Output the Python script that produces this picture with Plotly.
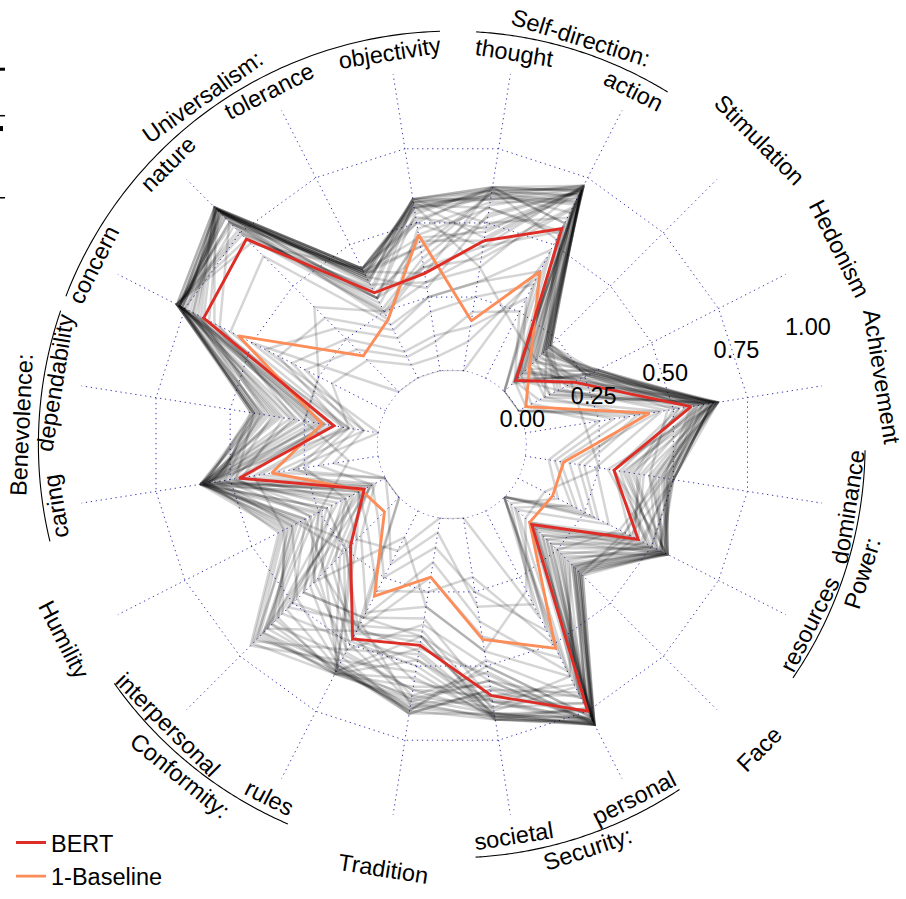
import numpy as np
import plotly.graph_objects as go

# ---------------- data ----------------
categories = ["thought", "action", "Stimulation", "Hedonism", "Achievement",
              "dominance", "resources", "Face", "personal", "societal",
              "Tradition", "rules", "interpersonal", "Humility", "caring",
              "dependability", "concern", "nature", "tolerance", "objectivity"]

bert = [0.44, 0.56, 0.055, 0.21, 0.56, 0.30, 0.45, 0.13, 0.75, 0.60,
        0.43, 0.48, 0.23, 0.08, 0.47, 0.15, 0.68, 0.72, 0.32, 0.33]
baseline = [0.17, 0.40, 0.12, 0.03, 0.42, 0.13, 0.13, 0.12, 0.515, 0.41,
            0.20, 0.32, 0.07, 0.09, 0.36, 0.19, 0.55, 0.17, 0.22, 0.46]

# other runs (grey), one list per run, same category order
run_01 = [0.60, 0.66, 0.08, 0.27, 0.64, 0.36, 0.55, 0.20, 0.79, 0.55, 0.62, 0.50, 0.35, 0.30, 0.59, 0.22, 0.77, 0.80, 0.40, 0.42]
run_02 = [0.45, 0.72, 0.20, 0.14, 0.58, 0.49, 0.47, 0.33, 0.74, 0.67, 0.40, 0.60, 0.58, 0.10, 0.52, 0.40, 0.72, 0.86, 0.30, 0.57]
run_03 = [0.62, 0.58, 0.15, 0.24, 0.62, 0.42, 0.52, 0.14, 0.80, 0.62, 0.55, 0.44, 0.25, 0.22, 0.60, 0.30, 0.76, 0.84, 0.38, 0.50]
run_04 = [0.52, 0.70, 0.22, 0.29, 0.55, 0.30, 0.56, 0.28, 0.68, 0.58, 0.66, 0.58, 0.48, 0.35, 0.55, 0.15, 0.78, 0.74, 0.25, 0.36]
run_05 = [0.58, 0.69, 0.05, 0.20, 0.65, 0.47, 0.40, 0.36, 0.78, 0.66, 0.48, 0.61, 0.65, 0.08, 0.58, 0.38, 0.70, 0.87, 0.41, 0.55]
run_06 = [0.40, 0.64, 0.18, 0.30, 0.60, 0.44, 0.54, 0.22, 0.77, 0.50, 0.36, 0.52, 0.40, 0.28, 0.48, 0.42, 0.77, 0.82, 0.35, 0.30]
run_07 = [0.61, 0.71, 0.12, 0.12, 0.63, 0.50, 0.50, 0.30, 0.72, 0.64, 0.60, 0.47, 0.30, 0.15, 0.59, 0.25, 0.66, 0.85, 0.39, 0.58]
run_08 = [0.55, 0.55, 0.21, 0.26, 0.52, 0.38, 0.44, 0.37, 0.80, 0.68, 0.52, 0.56, 0.70, 0.40, 0.57, 0.35, 0.75, 0.78, 0.28, 0.46]
run_09 = [0.48, 0.68, 0.10, 0.22, 0.64, 0.33, 0.53, 0.18, 0.65, 0.60, 0.63, 0.42, 0.52, 0.05, 0.45, 0.18, 0.77, 0.86, 0.37, 0.52]
run_10 = [0.60, 0.62, 0.16, 0.28, 0.61, 0.46, 0.38, 0.25, 0.79, 0.53, 0.44, 0.60, 0.22, 0.32, 0.60, 0.28, 0.62, 0.80, 0.32, 0.40]
run_11 = [0.35, 0.72, 0.19, 0.18, 0.57, 0.48, 0.55, 0.32, 0.75, 0.66, 0.58, 0.54, 0.60, 0.18, 0.53, 0.43, 0.78, 0.70, 0.41, 0.56]
run_12 = [0.57, 0.66, 0.06, 0.25, 0.65, 0.28, 0.49, 0.12, 0.78, 0.62, 0.34, 0.40, 0.45, 0.25, 0.58, 0.20, 0.74, 0.87, 0.22, 0.48]
run_13 = [0.62, 0.70, 0.22, 0.16, 0.48, 0.42, 0.56, 0.26, 0.70, 0.48, 0.65, 0.59, 0.35, 0.12, 0.60, 0.33, 0.76, 0.83, 0.40, 0.33]
run_14 = [0.50, 0.60, 0.14, 0.30, 0.63, 0.50, 0.42, 0.35, 0.80, 0.67, 0.50, 0.49, 0.55, 0.38, 0.42, 0.12, 0.68, 0.86, 0.36, 0.58]
run_15 = [0.44, 0.71, 0.09, 0.23, 0.59, 0.35, 0.51, 0.16, 0.76, 0.57, 0.57, 0.61, 0.28, 0.06, 0.56, 0.39, 0.78, 0.76, 0.30, 0.44]
run_16 = [0.61, 0.52, 0.20, 0.10, 0.65, 0.45, 0.54, 0.31, 0.62, 0.64, 0.42, 0.45, 0.62, 0.26, 0.59, 0.24, 0.71, 0.85, 0.39, 0.54]
run_17 = [0.56, 0.69, 0.04, 0.27, 0.54, 0.32, 0.48, 0.22, 0.79, 0.61, 0.64, 0.57, 0.42, 0.20, 0.50, 0.36, 0.77, 0.80, 0.26, 0.38]
run_18 = [0.42, 0.72, 0.17, 0.21, 0.62, 0.48, 0.56, 0.34, 0.74, 0.68, 0.46, 0.52, 0.68, 0.34, 0.58, 0.16, 0.64, 0.87, 0.41, 0.50]
run_19 = [0.59, 0.65, 0.11, 0.29, 0.64, 0.40, 0.45, 0.15, 0.80, 0.52, 0.60, 0.60, 0.20, 0.10, 0.55, 0.41, 0.78, 0.72, 0.34, 0.57]
run_20 = [0.53, 0.70, 0.21, 0.15, 0.60, 0.49, 0.53, 0.29, 0.66, 0.65, 0.38, 0.43, 0.50, 0.30, 0.60, 0.27, 0.76, 0.84, 0.38, 0.28]
run_21 = [0.62, 0.58, 0.07, 0.24, 0.50, 0.37, 0.55, 0.36, 0.78, 0.58, 0.66, 0.55, 0.38, 0.16, 0.46, 0.32, 0.73, 0.86, 0.30, 0.53]
run_22 = [0.47, 0.71, 0.19, 0.28, 0.65, 0.44, 0.40, 0.20, 0.77, 0.67, 0.54, 0.61, 0.57, 0.37, 0.59, 0.10, 0.78, 0.79, 0.40, 0.45]
run_23 = [0.58, 0.67, 0.13, 0.19, 0.61, 0.30, 0.50, 0.27, 0.72, 0.62, 0.48, 0.48, 0.32, 0.08, 0.57, 0.37, 0.69, 0.87, 0.36, 0.58]
run_24 = [0.38, 0.63, 0.22, 0.26, 0.56, 0.47, 0.56, 0.33, 0.80, 0.55, 0.61, 0.58, 0.64, 0.28, 0.52, 0.21, 0.77, 0.82, 0.24, 0.35]
run_25 = [0.60, 0.72, 0.15, 0.12, 0.63, 0.50, 0.46, 0.18, 0.79, 0.68, 0.40, 0.40, 0.45, 0.22, 0.60, 0.34, 0.75, 0.86, 0.41, 0.51]
run_26 = [0.55, 0.54, 0.09, 0.30, 0.58, 0.34, 0.52, 0.24, 0.69, 0.60, 0.58, 0.53, 0.26, 0.33, 0.54, 0.42, 0.78, 0.75, 0.33, 0.56]
run_27 = [0.49, 0.70, 0.18, 0.22, 0.65, 0.43, 0.54, 0.32, 0.77, 0.50, 0.65, 0.59, 0.53, 0.13, 0.58, 0.19, 0.72, 0.85, 0.39, 0.42]
run_28 = [0.61, 0.68, 0.05, 0.27, 0.60, 0.39, 0.43, 0.14, 0.80, 0.66, 0.45, 0.44, 0.36, 0.24, 0.49, 0.29, 0.77, 0.83, 0.37, 0.55]
run_29 = [0.61, 0.71, 0.21, 0.28, 0.64, 0.49, 0.55, 0.35, 0.79, 0.67, 0.64, 0.60, 0.66, 0.36, 0.59, 0.41, 0.77, 0.86, 0.40, 0.57]
run_30 = [0.59, 0.72, 0.20, 0.29, 0.65, 0.48, 0.56, 0.36, 0.80, 0.68, 0.62, 0.61, 0.69, 0.39, 0.60, 0.42, 0.78, 0.87, 0.41, 0.56]
run_31 = [0.62, 0.70, 0.22, 0.27, 0.63, 0.50, 0.54, 0.34, 0.78, 0.66, 0.66, 0.59, 0.62, 0.33, 0.58, 0.43, 0.76, 0.85, 0.39, 0.58]
run_32 = [0.60, 0.69, 0.19, 0.30, 0.64, 0.47, 0.55, 0.37, 0.80, 0.67, 0.63, 0.60, 0.60, 0.35, 0.60, 0.40, 0.77, 0.86, 0.40, 0.55]
run_33 = [0.58, 0.71, 0.21, 0.26, 0.65, 0.50, 0.53, 0.33, 0.79, 0.68, 0.65, 0.58, 0.67, 0.38, 0.59, 0.42, 0.78, 0.87, 0.41, 0.57]
run_34 = [0.62, 0.72, 0.18, 0.28, 0.62, 0.46, 0.56, 0.35, 0.80, 0.66, 0.61, 0.61, 0.64, 0.31, 0.60, 0.39, 0.77, 0.84, 0.38, 0.58]
run_35 = [0.00, 0.45, 0.00, 0.00, 0.40, 0.20, 0.30, 0.00, 0.55, 0.40, 0.20, 0.45, 0.00, 0.00, 0.35, 0.05, 0.50, 0.00, 0.00, 0.00]
run_36 = [0.25, 0.35, 0.00, 0.00, 0.45, 0.15, 0.25, 0.00, 0.60, 0.35, 0.15, 0.40, 0.00, 0.00, 0.30, 0.00, 0.45, 0.30, 0.15, 0.20]
run_37 = [0.15, 0.30, 0.08, 0.05, 0.30, 0.10, 0.20, 0.05, 0.45, 0.25, 0.10, 0.25, 0.10, 0.05, 0.20, 0.08, 0.35, 0.25, 0.10, 0.12]
run_38 = [0.30, 0.40, 0.12, 0.10, 0.38, 0.18, 0.28, 0.00, 0.50, 0.20, 0.25, 0.30, 0.15, 0.10, 0.28, 0.12, 0.40, 0.35, 0.18, 0.25]
run_39 = [0.20, 0.25, 0.05, 0.03, 0.25, 0.08, 0.15, 0.03, 0.35, 0.30, 0.05, 0.20, 0.05, 0.00, 0.15, 0.05, 0.30, 0.20, 0.08, 0.10]
run_40 = [0.10, 0.38, 0.00, 0.00, 0.35, 0.12, 0.22, 0.00, 0.40, 0.00, 0.00, 0.15, 0.20, 0.15, 0.25, 0.10, 0.20, 0.15, 0.05, 0.05]
run_41 = [0.35, 0.20, 0.15, 0.20, 0.20, 0.25, 0.10, 0.10, 0.30, 0.45, 0.30, 0.10, 0.40, 0.25, 0.10, 0.25, 0.25, 0.40, 0.25, 0.30]
run_42 = [0.42, 0.55, 0.06, 0.15, 0.52, 0.30, 0.42, 0.12, 0.70, 0.55, 0.40, 0.46, 0.25, 0.06, 0.48, 0.18, 0.68, 0.72, 0.30, 0.35]
run_43 = [0.30, 0.48, 0.05, 0.08, 0.46, 0.24, 0.34, 0.06, 0.62, 0.45, 0.30, 0.38, 0.18, 0.04, 0.40, 0.10, 0.58, 0.64, 0.20, 0.25]

gray_runs = [run_01, run_02, run_03, run_04, run_05, run_06, run_07, run_08, run_09,
             run_10, run_11, run_12, run_13, run_14, run_15, run_16, run_17, run_18,
             run_19, run_20, run_21, run_22, run_23, run_24, run_25, run_26, run_27,
             run_28, run_29, run_30, run_31, run_32, run_33, run_34, run_35, run_36,
             run_37, run_38, run_39, run_40, run_41, run_42, run_43]

tick_values = [0.0, 0.25, 0.5, 0.75, 1.0]
tick_labels = ["0.00", "0.25", "0.50", "0.75", "1.00"]

groups = [("Self-direction:", ["thought", "action"]),
          ("Power:", ["dominance", "resources"]),
          ("Security:", ["personal", "societal"]),
          ("Conformity:", ["rules", "interpersonal"]),
          ("Benevolence:", ["caring", "dependability"]),
          ("Universalism:", ["concern", "nature", "tolerance", "objectivity"])]

# ---------------- geometry / style ----------------
W, H = 906, 899
CX, CY = 451.75, 449.5         # centre (px from top-left)
R = 379                        # outer radius of the data polar (px)
HOLE = 75 / R
R3 = 449                       # radius of the decoration polar (px)
ROT = 81                       # angle of first category
STEP = 360 / len(categories)
FONT = "Liberation Sans, Arial, Helvetica, sans-serif"
FS = 23.5
R_SUB, R_SINGLE, R_GRP, R_ARC = 401, 435, 431, 418
GRID_COLOR = "rgba(35,35,165,0.9)"
GRID_DASH = "1.3px,3.7px"

# approximate Arial advance widths (em)
CW = dict(a=.556, b=.556, c=.5, d=.556, e=.556, f=.278, g=.556, h=.556, i=.222, j=.222,
          k=.5, l=.222, m=.833, n=.556, o=.556, p=.556, q=.556, r=.333, s=.5, t=.278,
          u=.556, v=.5, w=.722, x=.5, y=.5, z=.5)

def half_angle(word, rad):
    w = sum(CW.get(ch, .556) for ch in word) * FS
    return np.rad2deg(w / 2 / rad)

def dom(rad):
    return dict(x=[(CX - rad) / W, (CX + rad) / W],
                y=[(H - CY - rad) / H, (H - CY + rad) / H])

def ang(cat):
    return (ROT - STEP * categories.index(cat)) % 360

def paper(d, th):
    t = np.deg2rad(th)
    return (CX + d * np.cos(t)) / W, (H - CY + d * np.sin(t)) / H

def text_angle(th):
    th = th % 360
    return 90 - th if th <= 195 else 270 - th

fig = go.Figure()
theta_closed = categories + [categories[0]]

for run in gray_runs:
    fig.add_trace(go.Scatterpolar(r=run + [run[0]], theta=theta_closed, mode="lines",
                                  line=dict(color="rgba(0,0,0,0.165)", width=2.5),
                                  showlegend=False, hoverinfo="skip", subplot="polar"))

fig.add_trace(go.Scatterpolar(r=baseline + [baseline[0]], theta=theta_closed, mode="lines",
                              name="1-Baseline", legendrank=2,
                              line=dict(color="#fc8d59", width=2.9), subplot="polar"))
fig.add_trace(go.Scatterpolar(r=bert + [bert[0]], theta=theta_closed, mode="lines",
                              name="BERT", legendrank=1,
                              line=dict(color="#de2d26", width=2.9), subplot="polar"))

# dotted circle at the inner hole (r = 0)
hole_theta = np.linspace(0, 360, 181)
fig.add_trace(go.Scatterpolar(r=[0] * len(hole_theta), theta=hole_theta, mode="lines",
                              line=dict(color=GRID_COLOR, width=1.2, dash=GRID_DASH),
                              showlegend=False, hoverinfo="skip", subplot="polar2",
                              cliponaxis=False))

# radial tick labels along the 18 degree line
fig.add_trace(go.Scatterpolar(r=tick_values, theta=[18] * len(tick_values), mode="text",
                              text=tick_labels, textfont=dict(size=FS, color="black", family=FONT),
                              showlegend=False, hoverinfo="skip", subplot="polar2", cliponaxis=False))

annotations = []
# group arcs spanning the member labels, plus group names
for name, members in groups:
    lo = min(ang(m) - half_angle(m, R_SUB) for m in members)
    hi = max(ang(m) + half_angle(m, R_SUB) for m in members)
    th = np.linspace(lo, hi, 90)
    fig.add_trace(go.Scatterpolar(r=[R_ARC] * len(th), theta=th, mode="lines",
                                  line=dict(color="black", width=1.1),
                                  showlegend=False, hoverinfo="skip", subplot="polar3"))
    mid = (lo + hi) / 2
    x, y = paper(R_GRP, mid)
    annotations.append(dict(x=x, y=y, xref="paper", yref="paper", text=name, showarrow=False,
                            textangle=text_angle(mid), xanchor="center", yanchor="middle",
                            font=dict(size=FS, color="black", family=FONT)))

grouped = {m for _, ms in groups for m in ms}
for c in categories:
    th = ang(c)
    d = R_SUB if c in grouped else R_SINGLE
    x, y = paper(d, th)
    annotations.append(dict(x=x, y=y, xref="paper", yref="paper", text=c, showarrow=False,
                            textangle=text_angle(th), xanchor="center", yanchor="middle",
                            font=dict(size=FS, color="black", family=FONT)))

grid = dict(gridcolor=GRID_COLOR, gridwidth=1.2, griddash=GRID_DASH)

fig.update_layout(
    width=W, height=H, margin=dict(l=0, r=0, t=0, b=0),
    paper_bgcolor="white", plot_bgcolor="white",
    font=dict(family=FONT, size=FS, color="black"),
    polar=dict(domain=dom(R), hole=HOLE, gridshape="linear", bgcolor="rgba(0,0,0,0)",
               radialaxis=dict(range=[0, 1.001], tickvals=tick_values, showticklabels=False,
                               ticks="", showline=False, angle=18, **grid),
               angularaxis=dict(direction="clockwise", rotation=ROT, showticklabels=False,
                                ticks="", showline=False, **grid)),
    polar2=dict(domain=dom(R), hole=HOLE, bgcolor="rgba(0,0,0,0)",
                radialaxis=dict(range=[0, 1.001], visible=False),
                angularaxis=dict(visible=False, direction="counterclockwise", rotation=0)),
    polar3=dict(domain=dom(R3), hole=0, bgcolor="rgba(0,0,0,0)",
                radialaxis=dict(range=[0, R3], visible=False),
                angularaxis=dict(visible=False, direction="counterclockwise", rotation=0)),
    legend=dict(x=11 / W, y=1 - 830 / H, xanchor="left", yanchor="top",
                font=dict(size=FS, family=FONT), bgcolor="rgba(0,0,0,0)"),
    annotations=annotations,
    shapes=[dict(type="line", xref="paper", yref="paper", x0=0, x1=5 / W,
                 y0=1 - 70 / H, y1=1 - 70 / H, line=dict(color="black", width=3)),
            dict(type="line", xref="paper", yref="paper", x0=0, x1=5 / W,
                 y0=1 - 117 / H, y1=1 - 117 / H, line=dict(color="black", width=1.5)),
            dict(type="line", xref="paper", yref="paper", x0=0, x1=3 / W,
                 y0=1 - 130 / H, y1=1 - 130 / H, line=dict(color="black", width=5)),
            dict(type="line", xref="paper", yref="paper", x0=0, x1=5 / W,
                 y0=1 - 200 / H, y1=1 - 200 / H, line=dict(color="black", width=1.5))],
)

fig.write_html("out.html", config={"displayModeBar": False},
               post_script="document.body.style.margin='0';")
